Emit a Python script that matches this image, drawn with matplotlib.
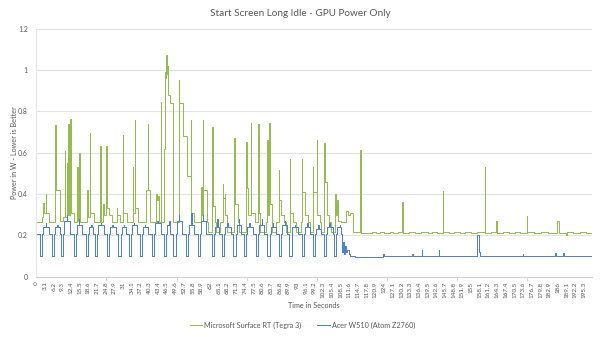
import matplotlib
matplotlib.use("Agg")
import matplotlib.pyplot as plt
import numpy as np

plt.rcParams['font.family'] = ['Lato', 'DejaVu Sans']

# ---- Microsoft Surface RT (Tegra 3): step breakpoints (time s, power W)
surface_t = [0, 2.2, 2.5, 2.7, 3.3, 3.5, 4.4,
             6.7, 6.9, 8.6, 9.6, 10.2, 10.4, 10.8, 11.0, 11.4, 11.6, 12.0, 12.2, 13.6,
             14.6, 14.8, 15.3, 15.5,
             18.1, 18.3, 19.1, 19.3, 20.4,
             22.8, 23.0, 23.9, 24.2, 24.9, 25.1, 26.0, 27.0,
             28.6, 28.8, 29.8,
             30.8, 31.0, 32.2,
             34.3, 34.5, 35.1, 35.3, 36.3,
             39.0, 39.7, 39.9, 40.4,
             42.8, 43.0, 43.3, 43.6,
             44.4, 44.6,
             45.7, 45.9, 46.2, 46.4, 46.6, 46.9, 47.1, 47.5, 47.8, 48.7, 48.9,
             50.7, 50.9, 52.4, 53.9, 55.1, 55.3, 56.4,
             58.7, 58.9, 59.3, 59.5, 60.7, 61.3, 62.7, 62.9, 63.6,
             64.0, 65.6, 66.4, 66.6, 67.1, 67.3, 68.0, 70.6, 70.8, 71.8, 72.4,
             74.9, 75.1, 75.5, 76.4, 76.6, 77.8, 79.1, 79.3, 79.9, 81.8,
             82.4, 82.6, 83.0, 83.2, 84.0, 85.4, 86.4, 86.6, 87.3, 88.3, 89.0,
             90.3, 90.5, 91.5, 92.5, 94.5, 94.7, 94.9, 95.9, 96.8, 97.4,
             98.6, 98.8, 99.9, 100.1, 101.0, 101.6, 102.6, 102.8, 103.6, 104.4, 105.2,
             106.5, 106.7, 107.2, 107.4, 108.6, 110.4, 111.2, 111.9, 113.0,
             115.4, 115.6, 118.0, 119.5, 121.0, 122.6, 124.0, 126.0, 127.3, 129.0,
             130.2, 130.4, 130.6, 130.9, 133.0, 135.0, 137.0, 139.5, 141.0, 143.0,
             144.9, 145.1, 147.0, 149.0, 151.0, 153.0, 155.0, 157.0,
             159.9, 160.1, 162.0, 163.8, 164.4, 166.5, 168.5, 170.5, 172.5,
             174.9, 175.1, 177.5, 180.0, 182.5, 185.7, 186.4, 188.8, 189.2,
             191.5, 194.0, 196.0, 198.0]
surface_w = [0.265, 0.29, 0.355, 0.31, 0.40, 0.31, 0.265,
             0.735, 0.42, 0.27, 0.29, 0.61, 0.29, 0.55, 0.30, 0.74, 0.30, 0.765, 0.31, 0.265,
             0.53, 0.27, 0.60, 0.265,
             0.42, 0.29, 0.695, 0.31, 0.265,
             0.63, 0.265, 0.35, 0.30, 0.63, 0.33, 0.30, 0.265,
             0.33, 0.30, 0.265,
             0.685, 0.31, 0.265,
             0.53, 0.31, 0.76, 0.33, 0.265,
             0.42, 0.74, 0.42, 0.265,
             0.40, 0.37, 0.39, 0.265,
             0.845, 0.265,
             0.62, 0.99, 0.96, 1.07, 0.98, 1.02, 0.88, 0.85, 0.84, 0.60, 0.265,
             0.95, 0.84, 0.68, 0.485, 0.76, 0.31, 0.265,
             0.435, 0.30, 0.76, 0.42, 0.265, 0.215, 0.725, 0.34, 0.265,
             0.215, 0.265, 0.45, 0.38, 0.40, 0.30, 0.215, 0.67, 0.35, 0.265, 0.215,
             0.65, 0.43, 0.30, 0.745, 0.31, 0.265, 0.74, 0.31, 0.215, 0.265,
             0.66, 0.30, 0.745, 0.35, 0.215, 0.265, 0.515, 0.37, 0.30, 0.265, 0.215,
             0.57, 0.31, 0.265, 0.215, 0.265, 0.57, 0.41, 0.30, 0.265, 0.215,
             0.53, 0.41, 0.66, 0.30, 0.265, 0.215, 0.645, 0.46, 0.30, 0.265, 0.215,
             0.40, 0.30, 0.37, 0.27, 0.265, 0.32, 0.30, 0.31, 0.215,
             0.615, 0.213, 0.21, 0.216, 0.211, 0.218, 0.212, 0.215, 0.209, 0.214,
             0.29, 0.36, 0.29, 0.213, 0.217, 0.21, 0.215, 0.211, 0.216, 0.212,
             0.415, 0.214, 0.21, 0.216, 0.211, 0.215, 0.21, 0.214,
             0.53, 0.213, 0.217, 0.27, 0.212, 0.216, 0.21, 0.215, 0.211,
             0.295, 0.214, 0.21, 0.216, 0.211, 0.27, 0.213, 0.20, 0.215,
             0.21, 0.216, 0.21, 0.21]

# ---- Acer W510 (Atom Z2760): periodic idle cycles during the first ~109 s
acer_dip_start = [1.4, 5.6, 8.9, 13.3, 17.7, 21.0, 25.2, 29.3, 32.9, 36.8, 41.2, 45.4, 48.9, 53.3,
                  57.5, 62.6, 66.2, 70.3, 74.1, 78.4, 82.4, 86.6, 90.2, 94.7, 98.6, 102.6, 106.2]
acer_dip_end = [2.2, 6.4, 9.7, 14.1, 18.5, 21.8, 26.0, 30.1, 33.7, 37.6, 42.0, 46.2, 49.7, 54.1,
                58.3, 63.4, 67.0, 71.1, 74.9, 79.2, 83.2, 87.4, 91.0, 95.5, 99.4, 103.4, 107.0]
acer_bump_start = [2.5, 6.7, 10.0, 14.4, 18.8, 22.1, 26.3, 30.4, 34.0, 37.9, 42.3, 46.5, 50.0, 54.4,
                   58.6, 63.7, 67.3, 71.4, 75.2, 79.5, 83.5, 87.7, 91.3, 95.8, 99.7, 103.7, 107.3]
acer_peak_time = [3.3, 7.5, 10.8, 15.2, 19.6, 22.9, 27.1, 31.2, 34.8, 38.7, 43.1, 47.3, 50.8, 55.2,
                  59.4, 64.5, 68.1, 72.2, 76.0, 80.3, 84.3, 88.5, 92.1, 96.6, 100.5, 104.5, 108.1]
acer_bump_end = [4.5, 8.4, 12.0, 16.4, 20.2, 24.1, 28.3, 32.0, 35.8, 39.9, 44.3, 47.8, 52.0, 56.4,
                 60.6, 65.3, 69.3, 73.0, 77.2, 81.3, 85.5, 89.3, 93.3, 97.6, 101.6, 105.6, 108.8]
acer_bump_w = [0.24, 0.24, 0.27, 0.25, 0.24, 0.25, 0.24, 0.24, 0.25, 0.24, 0.26, 0.25, 0.27, 0.25,
               0.27, 0.24, 0.24, 0.25, 0.24, 0.25, 0.24, 0.25, 0.24, 0.24, 0.23, 0.24, 0.24]
acer_peak_w = [0.26, 0.25, 0.30, 0.28, 0.25, 0.26, 0.25, 0.25, 0.26, 0.25, 0.27, 0.27, 0.30, 0.31,
               0.30, 0.28, 0.26, 0.28, 0.26, 0.28, 0.26, 0.27, 0.25, 0.26, 0.25, 0.26, 0.25]
acer_base_w = 0.205
acer_dip_w = 0.10

# ---- Acer W510 after settling into long idle
acer_tail_t = [109.0, 109.3, 109.6, 109.9, 110.3, 110.8, 111.3, 112.0, 113.5,
               123.6, 123.8, 134.0, 134.2, 137.4, 137.6, 143.5, 143.7,
               157.2, 157.9, 158.1, 173.4, 173.6, 184.9, 185.1, 187.9, 188.1, 198.0]
acer_tail_w = [0.12, 0.17, 0.11, 0.15, 0.12, 0.13, 0.11, 0.10, 0.097,
               0.11, 0.098, 0.11, 0.098, 0.13, 0.098, 0.13, 0.098,
               0.20, 0.12, 0.098, 0.11, 0.098, 0.115, 0.098, 0.115, 0.098, 0.097]

# x-axis category labels (every 3.1 s)
tick_step = 3.1
n_labels = 64

# assemble the Acer step series from the cycle table
acer_t = [0.0]
acer_w = [acer_base_w]
for i in range(len(acer_dip_start)):
    acer_t += [acer_dip_start[i], acer_dip_end[i], acer_bump_start[i], acer_peak_time[i],
               acer_peak_time[i] + 0.2, acer_bump_end[i]]
    acer_w += [acer_dip_w, acer_base_w, acer_bump_w[i], acer_peak_w[i],
               acer_bump_w[i], acer_base_w]
acer_t += acer_tail_t
acer_w += acer_tail_w

green = '#93b94e'
blue = '#4a7ec2'
txt = '#595959'
grid = '#e3e3e3'

fig = plt.figure(figsize=(6.0, 3.37), dpi=100)
ax = fig.add_axes([36 / 600, 1 - 276.7 / 337, (592 - 36) / 600, (276.7 - 28.6) / 337])

ax.plot(surface_t, surface_w, drawstyle='steps-post', color=green, lw=0.7,
        label='Microsoft Surface RT (Tegra 3)')
ax.plot(acer_t, acer_w, drawstyle='steps-post', color=blue, lw=0.7,
        label='Acer W510 (Atom Z2760)')

ax.set_xlim(-0.1, 198.1)
ax.set_ylim(0, 1.2)
ax.set_yticks(np.arange(0, 1.21, 0.2))
ax.set_yticklabels(['0', '0.2', '0.4', '0.6', '0.8', '1', '1.2'])
ax.yaxis.grid(True, color=grid, lw=0.8)
ax.set_axisbelow(True)

xt = [round(k * tick_step, 1) for k in range(n_labels)]
ax.set_xticks(xt)
ax.set_xticklabels([f'{v:g}' for v in xt], rotation=90)
ax.set_xticks([25, 50, 75, 100, 125, 150, 175], minor=True)
ax.tick_params(axis='x', which='major', length=0, pad=3.5, labelsize=4.6, colors=txt)
ax.tick_params(axis='x', which='minor', length=3, width=0.6, color='#d0d0d0', direction='out')
ax.tick_params(axis='y', length=0, pad=6, labelsize=5, colors=txt)

for s in ['top', 'right']:
    ax.spines[s].set_visible(False)
ax.spines['bottom'].set_color('#d0d0d0')
ax.spines['bottom'].set_linewidth(0.8)
ax.spines['left'].set_color('#e6e6e6')
ax.spines['left'].set_linewidth(0.8)

fig.text(0.5, 1 - 14 / 337, 'Start Screen Long Idle - GPU Power Only', ha='center', va='center',
         fontsize=7.2, color=txt)
fig.text(15 / 600, 0.547, 'Power in W - Lower is Better', rotation=90, ha='center', va='center',
         fontsize=5.2, color=txt)
fig.text(314 / 600, 1 - 305 / 337, 'Time in Seconds', ha='center', va='center',
         fontsize=5.2, color=txt)

leg = fig.legend(loc='center', bbox_to_anchor=(302.5 / 600, 1 - 325 / 337), ncol=2, frameon=False,
                 fontsize=5.2, handlelength=1.7, columnspacing=2.2, handletextpad=0.3)
for t in leg.get_texts():
    t.set_color(txt)

fig.savefig('out.png', dpi=100)
